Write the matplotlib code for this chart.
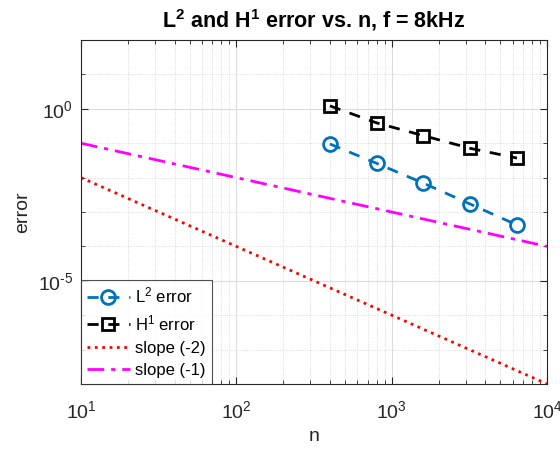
import matplotlib
matplotlib.use("Agg")
import matplotlib.pyplot as plt
from matplotlib.ticker import LogLocator, NullFormatter, FixedLocator, FixedFormatter

n_vals = [400, 800, 1600, 3200, 6400]
L2_err = [0.095, 0.026, 0.0069, 0.0017, 0.00042]
H1_err = [1.22, 0.39, 0.166, 0.071, 0.037]
n_ref = [10, 10000]
slope2 = [1e-2, 1e-8]
slope1 = [1e-1, 1e-4]
x_ticks = [1e1, 1e2, 1e3, 1e4]
x_ticklabels = ['$10^{1}$', '$10^{2}$', '$10^{3}$', '$10^{4}$']
y_ticks = [1e-5, 1e0]
y_ticklabels = ['$10^{\\text{-5}}$', '$10^{0}$']

plt.rcParams['font.family'] = ['Liberation Sans', 'DejaVu Sans']
plt.rcParams['mathtext.fontset'] = 'custom'
plt.rcParams['mathtext.rm'] = 'Liberation Sans'
plt.rcParams['mathtext.it'] = 'Liberation Sans'
plt.rcParams['mathtext.bf'] = 'Liberation Sans:bold'

fig = plt.figure(figsize=(5.6, 4.5), dpi=100)
ax = fig.add_axes([0.1446, 0.1467, 0.977 - 0.1446, 0.911 - 0.1467])

ax.loglog(n_vals, L2_err, color='#0072BD', ls='--', lw=2, marker='o', ms=10,
          mfc='none', mew=2, label='L$^2$ error', dashes=(4, 3.5))
ax.loglog(n_vals, H1_err, color='black', ls='--', lw=2, marker='s', ms=8,
          mfc='none', mew=2, label='H$^1$ error', dashes=(4, 3.5))
ax.loglog(n_ref, slope2, color='red', ls=':', lw=2, label='slope (-2)')
ax.loglog(n_ref, slope1, color='magenta', lw=2, label='slope (-1)', dashes=(6, 2.5, 1.5, 2.5))

ax.set_xlim(10, 1e4)
ax.set_ylim(1e-8, 1e2)

ax.xaxis.set_major_locator(FixedLocator(x_ticks))
ax.xaxis.set_major_formatter(FixedFormatter(x_ticklabels))
ax.xaxis.set_minor_locator(LogLocator(base=10, subs=range(2, 10), numticks=20))
ax.xaxis.set_minor_formatter(NullFormatter())
ax.yaxis.set_major_locator(FixedLocator(y_ticks))
ax.yaxis.set_major_formatter(FixedFormatter(y_ticklabels))
ax.yaxis.set_minor_locator(LogLocator(base=10, subs=[1.0], numticks=30))
ax.yaxis.set_minor_formatter(NullFormatter())

ax.grid(True, which='major', color='#dcdcdc', lw=0.8, ls='-')
ax.grid(True, which='minor', color='#d0d0d0', lw=0.6, ls=':')
ax.set_axisbelow(True)

ax.tick_params(which='both', direction='in', top=True, right=True, labelsize=14, colors='#262626')
ax.tick_params(which='major', length=5)
ax.tick_params(which='minor', length=3)
ax.tick_params(axis='x', which='major', pad=12)
ax.tick_params(axis='y', which='major', pad=5.5)
for s in ax.spines.values():
    s.set_color('#262626')
    s.set_linewidth(0.8)

ax.set_xlabel('n', fontsize=14, color='#262626', labelpad=4)
ax.set_ylabel('error', fontsize=14, color='#262626', labelpad=5)
ax.set_title('L$^\\mathbf{2}$ and H$^\\mathbf{1}$ error vs. n, f = 8kHz', fontsize=15.5,
             fontweight='bold', color='black', pad=9)

leg = ax.legend(loc='lower left', fontsize=12, frameon=True, fancybox=False,
                edgecolor='#262626', borderaxespad=0, handlelength=2.6,
                borderpad=0.35, labelspacing=0.45, handletextpad=0.3)
leg.get_frame().set_linewidth(0.8)

fig.savefig('out.png', dpi=100)
